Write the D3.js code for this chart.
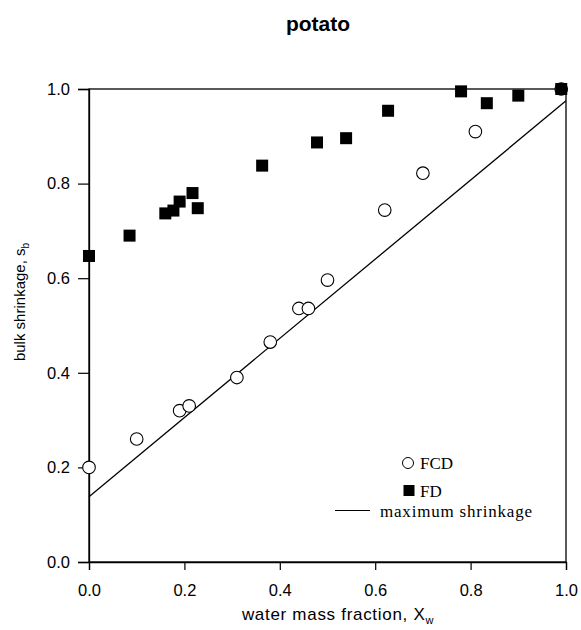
<!DOCTYPE html>
<html>
<head>
<meta charset="utf-8">
<script src="https://cdn.jsdelivr.net/npm/d3@7"></script>
<style>
  body { margin: 0; background: #fff; }
  svg { display: block; }
</style>
</head>
<body>
<div id="chart"></div>
<script>
// data
var fcdX = [0.0, 0.10, 0.19, 0.21, 0.31, 0.38, 0.44, 0.46, 0.50, 0.62, 0.70, 0.81, 0.99];
var fcdY = [0.20, 0.26, 0.32, 0.33, 0.39, 0.465, 0.536, 0.536, 0.596, 0.744, 0.822, 0.91, 1.0];

var fdX = [0.0, 0.085, 0.16, 0.177, 0.19, 0.217, 0.228, 0.363, 0.478, 0.539, 0.627, 0.78, 0.834, 0.90, 0.99];
var fdY = [0.647, 0.69, 0.737, 0.743, 0.762, 0.78, 0.748, 0.838, 0.887, 0.896, 0.954, 0.995, 0.97, 0.986, 1.0];

var maxX = [0.0, 1.0];
var maxY = [0.138, 0.975];

var xTicks = [0, 0.2, 0.4, 0.6, 0.8, 1.0];
var yTicks = [0, 0.2, 0.4, 0.6, 0.8, 1.0];

var W = 581, H = 630;
var svg = d3.select("#chart").append("svg")
    .attr("width", W)
    .attr("height", H);

var x = d3.scaleLinear().domain([0, 1]).range([89, 566]);
var y = d3.scaleLinear().domain([0, 1]).range([562, 89]);

var sans = "Liberation Sans, Arial, sans-serif";
var serif = "Liberation Serif, Times New Roman, serif";

// frame
svg.append("rect")
    .attr("x", x(0)).attr("y", y(1))
    .attr("width", x(1) - x(0)).attr("height", y(0) - y(1))
    .style("fill", "none").style("stroke", "#000").style("stroke-width", 1.3);

var xAxis = svg.append("g")
    .attr("transform", "translate(0," + y(0) + ")")
    .call(d3.axisBottom(x).tickValues(xTicks).tickSizeOuter(0).tickSize(8).tickPadding(14)
        .tickFormat(d3.format(".1f")));
var yAxis = svg.append("g")
    .attr("transform", "translate(" + x(0) + ",0)")
    .call(d3.axisLeft(y).tickValues(yTicks).tickSizeOuter(0).tickSize(11).tickPadding(8)
        .tickFormat(d3.format(".1f")));

[xAxis, yAxis].forEach(function(a) {
    a.select(".domain").style("stroke", "#000").style("stroke-width", 1.3);
    a.selectAll(".tick line").style("stroke", "#000").style("stroke-width", 1.2);
    a.selectAll(".tick text")
        .style("font-family", sans)
        .style("font-size", "16.5px")
        .style("fill", "#000");
});

// maximum shrinkage line
var line = d3.line()
    .x(function(d) { return x(d[0]); })
    .y(function(d) { return y(d[1]); });
svg.append("path")
    .datum(d3.zip(maxX, maxY))
    .attr("d", line)
    .style("fill", "none")
    .style("stroke", "#000")
    .style("stroke-width", 1.3);

// FCD open circles
svg.append("g").selectAll("circle")
    .data(d3.zip(fcdX, fcdY))
    .enter().append("circle")
    .attr("cx", function(d) { return x(d[0]); })
    .attr("cy", function(d) { return y(d[1]); })
    .attr("r", 6.3)
    .style("fill", "#fff")
    .style("stroke", "#000")
    .style("stroke-width", 1.1);

// FD filled squares
var sq = 12;
svg.append("g").selectAll("rect")
    .data(d3.zip(fdX, fdY))
    .enter().append("rect")
    .attr("x", function(d) { return x(d[0]) - sq / 2; })
    .attr("y", function(d) { return y(d[1]) - sq / 2; })
    .attr("width", sq)
    .attr("height", sq)
    .style("fill", "#000");

// legend
var lg = svg.append("g").style("font-family", serif).style("font-size", "17px");
lg.append("circle").attr("cx", 408).attr("cy", 463).attr("r", 5.5)
    .style("fill", "#fff").style("stroke", "#000").style("stroke-width", 1);
lg.append("text").attr("x", 420).attr("y", 469).text("FCD");
lg.append("rect").attr("x", 403.5).attr("y", 485).attr("width", 11).attr("height", 11)
    .style("fill", "#000");
lg.append("text").attr("x", 420).attr("y", 496.5).text("FD");
lg.append("line").attr("x1", 335).attr("x2", 370).attr("y1", 510.5).attr("y2", 510.5)
    .style("stroke", "#000").style("stroke-width", 1);
lg.append("text").attr("x", 380).attr("y", 516.5).attr("textLength", 152)
    .text("maximum shrinkage");

// title
svg.append("text")
    .attr("x", 318).attr("y", 31)
    .attr("text-anchor", "middle")
    .style("font-family", sans)
    .style("font-weight", "bold")
    .style("font-size", "21px")
    .text("potato");

// axis titles
var xl = svg.append("text")
    .attr("x", 338).attr("y", 620)
    .attr("text-anchor", "middle")
    .style("font-family", sans)
    .style("font-size", "17px")
    .style("letter-spacing", "0.7px")
    .text("water mass fraction, X");
xl.append("tspan").attr("dy", 4).style("font-size", "11px").text("w");

var yl = svg.append("text")
    .attr("transform", "translate(25,302) rotate(-90)")
    .attr("text-anchor", "middle")
    .style("font-family", sans)
    .style("font-size", "15px")
    .text("bulk shrinkage, s");
yl.append("tspan").attr("dy", 4).style("font-size", "10px").text("b");
</script>
</body>
</html>
